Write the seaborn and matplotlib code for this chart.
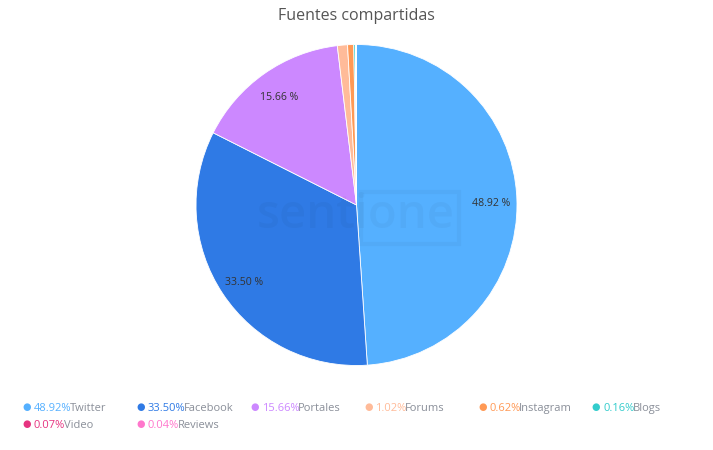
import matplotlib
matplotlib.use("Agg")
import matplotlib.pyplot as plt
import seaborn as sns
import numpy as np

# data
sources = ["Twitter", "Facebook", "Portales", "Forums", "Instagram", "Blogs", "Video", "Reviews"]
shares = [48.92, 33.50, 15.66, 1.02, 0.62, 0.16, 0.07, 0.04]
colors = ["#55b0ff", "#2f7ae5", "#cc88ff", "#ffbb99", "#ff9955", "#33cccc", "#e63380", "#ff77cc"]

sns.set_theme(style="white")
plt.rcParams["font.family"] = ["Open Sans", "DejaVu Sans"]

W, H = 713, 450
fig = plt.figure(figsize=(W / 100, H / 100), dpi=100)
ax = fig.add_axes([0.2749, 0.1878, 0.4502, 0.7133])

wedges, _ = ax.pie(shares, colors=colors, startangle=90, counterclock=False,
                   radius=1, wedgeprops=dict(edgecolor="white", linewidth=0.6))
ax.set_xlim(-1, 1)
ax.set_ylim(-1, 1)
ax.set_aspect("equal")

# labels on the big slices
for w, v in zip(wedges, shares):
    if v < 5:
        continue
    ang = np.deg2rad((w.theta1 + w.theta2) / 2)
    ax.text(0.84 * np.cos(ang), 0.84 * np.sin(ang) - 0.02, f"{v:.2f} %",
            ha="center", va="center", fontsize=7.6, color="#333333")

# faint watermark
fig.text(356 / W, 1 - 216 / H, "sentione", ha="center", va="center",
         fontsize=34, fontweight="semibold", color="black", alpha=0.03)
fig.patches.append(plt.Rectangle((361 / W, 1 - 244 / H), 98 / W, 52 / H,
                                 transform=fig.transFigure, fill=False,
                                 edgecolor="black", alpha=0.03, linewidth=3))

fig.text(0.5, 1 - 16 / H, "Fuentes compartidas", ha="center", va="center",
         fontsize=11.5, color="#555555")

# legend drawn by hand: coloured percentage + grey name
fig.canvas.draw()
renderer = fig.canvas.get_renderer()
for i, (name, v, c) in enumerate(zip(sources, shares, colors)):
    row, col = divmod(i, 6)
    x0 = 27 + col * 113.8
    y0 = 411 + row * 17
    fig.text(x0 / W, 1 - (y0 - 3.5) / H, "\u25cf", color=c, fontsize=7,
             ha="center", va="center")
    t = fig.text((x0 + 7) / W, 1 - y0 / H, f"{v:.2f}%", color=c, fontsize=8,
                 va="baseline")
    bb = t.get_window_extent(renderer)
    fig.text((bb.x1 - 1.5) / W, 1 - y0 / H, name, color="#8a8f99", fontsize=8,
             va="baseline")

fig.savefig("out.png", dpi=100, facecolor="white")
